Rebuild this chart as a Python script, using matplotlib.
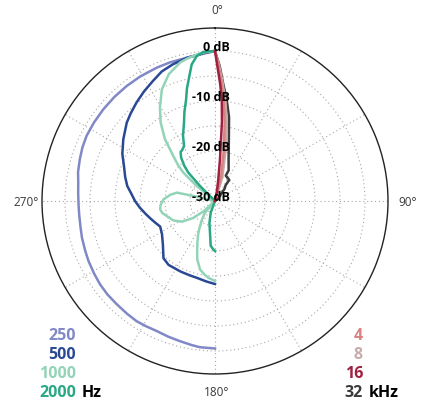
import numpy as np
import matplotlib
matplotlib.use("Agg")
import matplotlib.pyplot as plt

plt.rcParams['font.family'] = ['Open Sans', 'DejaVu Sans']

# directivity: angle in degrees (clockwise from front), level in dB
ang_250 = [360, 355, 348.8, 342, 336.4, 329, 322.5, 316, 309.4, 303, 296.9, 292, 287.2, 282,
           277.7, 273, 268.6, 264.4, 259, 254.6, 249, 244.7, 239, 234.1, 229, 223.6, 218,
           213.1, 209, 204.2, 199, 194, 189, 185.9, 180]
db_250 = [0, -0.5, -0.8, -0.85, -0.9, -0.95, -1.0, -1.05, -1.1, -1.15, -1.2, -1.4, -1.7, -2.0,
          -2.4, -2.6, -2.7, -2.7, -2.6, -2.4, -2.2, -2.0, -1.8, -1.6, -1.5, -1.5, -1.4,
          -1.3, -1.4, -1.5, -1.3, -1.1, -0.8, -0.6, -0.5]

ang_500 = [360, 356, 352.8, 349, 342.8, 337.6, 332.5, 327, 321.5, 316, 311.6, 303.9, 297, 291,
           285, 279.7, 275, 270, 265, 260, 255, 250, 245, 238, 230, 222, 216, 206, 199, 193,
           186, 180]
db_500 = [0, -0.3, -0.6, -0.8, -1.4, -2.0, -3.0, -3.9, -4.8, -5.7, -6.4, -7.9, -9.2, -10.5,
          -11.4, -12.2, -13.2, -14.0, -14.9, -15.8, -16.6, -17.3, -17.9, -17.5, -16.4, -14.6,
          -14.2, -14.3, -14.3, -14.2, -13.8, -13.4]

ang_1000 = [360, 356, 352.9, 349.5, 346, 340, 334.5, 329.5, 325.3, 321, 317.2, 314, 311.9,
            309.3, 300,
            286, 283, 282.4, 278, 274, 271.9, 266, 261.4, 257, 252.7, 245, 238, 232, 228, 225,
            222, 220.8, 215, 211, 207, 203, 199.5, 196.9, 192.4, 188, 185, 180]
db_1000 = [0, -0.2, -0.5, -0.9, -1.4, -3.0, -5.3, -8.3, -10.9, -14.1, -17.7, -19.8, -21.5,
           -25.3, -30,
           -30, -25.5, -22.2, -21.0, -20.2, -19.7, -19.1, -18.9, -19.2, -19.9, -20.8, -22.2,
           -24.5, -27, -30,
           -30, -26.9, -25.5, -24.2, -22.6, -21, -19.3, -17.8, -16, -15.1, -14.6, -14]

ang_2000 = [360, 357.5, 355.5, 352.8, 350.3, 348.4, 346, 344.1, 341, 338.5, 334, 330.6, 327,
            325, 322, 319, 316.8, 315, 312,
            205, 200.3, 194, 189, 185.5, 182, 180]
db_2000 = [0, -0.05, -0.1, -0.8, -2.3, -4.5, -6.8, -8.9, -11.2, -13.1, -15.4, -17.4, -17.9,
           -18.0, -19.0, -20.6, -22.2, -25.8, -30,
           -30, -27.5, -25.4, -23.6, -21, -20.3, -20]

ang_4k = [0, 1.5, 3, 5, 7, 10, 14, 20]
db_4k = [0, -3, -6, -10, -14, -20, -25, -30]

ang_8k = [0, 1.8, 3.5, 6, 8.5, 12, 17, 25]
db_8k = [0, -3, -6, -10, -14, -20, -25, -30]

ang_16k = [0, 1, 2.5, 3.8, 5, 6.8, 9, 11.4, 15]
db_16k = [0, -3, -6.5, -9.6, -14, -21.6, -26, -28.3, -30]

ang_32k = [0, 2, 4, 6.5, 9.5, 14, 18, 24, 23, 34, 34, 38, 48, 60]
db_32k = [0, -3, -6.5, -9.5, -13, -18.6, -21.2, -23.3, -24.5, -24.9, -26.2, -26.9, -29, -30]

low_labels = ['250', '500', '1000', '2000']
high_labels = ['4', '8', '16', '32']
low_colors = ['#8188c6', '#2a4894', '#92d4b8', '#2aa783']
high_colors = ['#d98282', '#c7abab', '#a0203f', '#3b3b3b']

W, H = 422, 406
fig = plt.figure(figsize=(W / 100, H / 100), dpi=100)
ax = fig.add_axes([42 / W, 31 / H, 346 / W, 346 / H], projection='polar')
ax.set_theta_zero_location('N')
ax.set_theta_direction(-1)
ax.set_ylim(-30, 4.6)
ax.set_yticks([-25, -20, -15, -10, -5, 0])
ax.set_yticklabels([])
ax.set_xticks(np.radians(np.arange(0, 360, 30)))
ax.set_xticklabels([])
ax.tick_params(length=0)
ax.grid(True, color='#a8a8a8', linestyle=(0, (1, 2.5)), linewidth=0.8)
ax.spines['polar'].set_color('#222222')
ax.spines['polar'].set_linewidth(1.0)

lows = [(ang_250, db_250), (ang_500, db_500), (ang_1000, db_1000), (ang_2000, db_2000)]
for (a, d), c in zip(lows, low_colors):
    ax.plot(np.radians(a), d, color=c, lw=1.8, solid_joinstyle='round')

highs = [(ang_32k, db_32k, high_colors[3]), (ang_8k, db_8k, high_colors[1]),
         (ang_4k, db_4k, high_colors[0]), (ang_16k, db_16k, high_colors[2])]
for a, d, c in highs:
    ax.plot(np.radians(a), d, color=c, lw=1.8, solid_joinstyle='round')

# dB labels along the front axis
for lev in [0, -10, -20, -30]:
    ax.annotate(f'{lev} dB', xy=(0, lev + 0.9), xytext=(15, 0), textcoords='offset pixels',
                ha='right', va='center', fontsize=9, fontweight='bold', color='black', zorder=10)

# angle labels
for txt, x, y in [('0°', 217, 11), ('90°', 408, 203), ('180°', 217, 393), ('270°', 26, 203)]:
    fig.text(x / W, 1 - y / H, txt, ha='center', va='center', fontsize=8.5, color='#3a3a3a')

# legends
ys = [336, 355, 374, 393]
for lab, c, y in zip(low_labels, low_colors, ys):
    fig.text(76 / W, 1 - y / H, lab, ha='right', va='center', fontsize=11.5,
             fontweight='bold', color=c)
fig.text(82 / W, 1 - ys[-1] / H, 'Hz', ha='left', va='center', fontsize=11.5,
         fontweight='bold', color='black')
for lab, c, y in zip(high_labels, high_colors, ys):
    fig.text(363 / W, 1 - y / H, lab, ha='right', va='center', fontsize=11.5,
             fontweight='bold', color=c)
fig.text(369 / W, 1 - ys[-1] / H, 'kHz', ha='left', va='center', fontsize=11.5,
         fontweight='bold', color='black')

fig.savefig('out.png', dpi=100)
